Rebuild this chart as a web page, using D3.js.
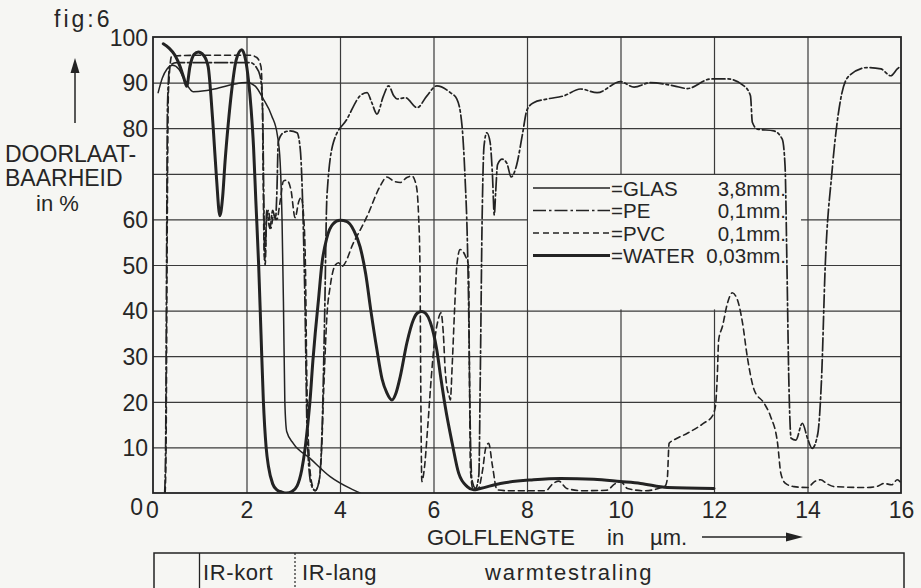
<!DOCTYPE html>
<html>
<head>
<meta charset="utf-8">
<script src="https://cdn.jsdelivr.net/npm/d3@7"></script>
<style>
  html, body { margin: 0; padding: 0; background: #f6f6f3; }
  svg { display: block; }
  text { font-family: "Liberation Sans", Arial, sans-serif; fill: #262626; }
</style>
</head>
<body>
<svg id="chart" width="921" height="588"></svg>
<script>
// ---------- data (wavelength in µm, transmission in %) ----------
const xTicks = [0, 2, 4, 6, 8, 10, 12, 14, 16];
const yTicks = [0, 10, 20, 30, 40, 50, 60, 70, 80, 90, 100];
const yTickLabels = ["0", "10", "20", "30", "40", "50", "60", "", "80", "90", "100"];

const seriesNames = ["GLAS", "PE", "PVC", "WATER"];
const seriesThickness = ["3,8mm.", "0,1mm.", "0,1mm.", "0,03mm."];

const glasData = [
  [0.11,87.8],[0.2,91],[0.3,93],[0.42,93.8],[0.55,93],[0.7,90],[0.86,88],[1.1,88.2],
  [1.4,88.8],[1.75,89.7],[2.0,90],[2.18,89.3],[2.36,86.4],[2.54,82.7],[2.66,78.5],
  [2.72,72.5],[2.76,60],[2.79,42],[2.82,20],[2.86,13.5],[3.0,10.9],[3.36,7.6],
  [3.79,3.6],[4.22,1.0],[4.43,0]
];

const peData = [
  [0.25,0],[0.27,10],[0.29,50],[0.31,85],[0.36,93.7],[0.5,94.4],[1.0,94.4],[2.08,94.4],
  [2.2,93.5],[2.29,91.5],[2.34,86],[2.37,65],[2.39,51],[2.41,55],[2.43,62],[2.5,58],
  [2.56,62],[2.62,60],[2.65,66],[2.68,77],[2.79,79],[2.93,79.4],[3.08,79],[3.15,75.4],
  [3.2,64],[3.25,42],[3.3,12],[3.38,2],[3.47,0.5],[3.56,3],[3.62,15],[3.67,38],
  [3.72,65],[3.86,76.9],[4.15,82],[4.43,87.1],[4.58,87.8],[4.68,85.6],[4.79,83.1],
  [4.93,87.1],[5.04,89.3],[5.15,87.1],[5.22,86.4],[5.4,86.7],[5.65,84.5],[5.86,87.1],
  [6.07,89.3],[6.36,87.8],[6.5,86.4],[6.61,80.5],[6.68,68],[6.72,57],[6.75,42],
  [6.78,18],[6.82,3],[6.9,1],[6.97,4],[7.0,25],[7.04,60],[7.08,76],[7.14,79],
  [7.21,77],[7.26,70],[7.3,61],[7.33,66],[7.37,72],[7.47,73.2],[7.57,72.3],[7.66,69.3],
  [7.78,72],[7.9,78.5],[8.0,84],[8.14,85.6],[8.43,86.4],[8.79,87.1],[9.14,88.6],
  [9.5,87.8],[10.0,90.2],[10.29,89],[10.64,90],[11.14,89.3],[11.43,88.7],[11.93,90.8],
  [12.29,90.8],[12.64,89.3],[12.78,87.1],[12.82,81.3],[12.93,79.8],[13.28,79.4],
  [13.46,77.6],[13.52,71.7],[13.56,50],[13.6,25],[13.65,12],[13.75,11.6],[13.89,15.3],
  [14.0,12],[14.1,9.8],[14.22,13],[14.3,25],[14.38,50],[14.52,70],[14.71,86.4],
  [14.89,91.5],[15.28,93.3],[15.57,93],[15.78,91.5],[15.92,93],[16.0,93.7]
];

const pvcData = [
  [0.26,0],[0.28,10],[0.3,50],[0.33,88],[0.4,95.8],[1.0,96],[2.08,96],[2.22,95.5],
  [2.31,93.5],[2.34,85],[2.36,65],[2.38,52],[2.4,50],[2.43,60],[2.47,62],[2.52,58],
  [2.58,61],[2.65,60],[2.72,64],[2.79,68.4],[2.86,68.6],[2.95,66.5],[3.04,60.4],
  [3.12,64],[3.17,64.8],[3.22,61],[3.26,50],[3.29,25],[3.34,8],[3.4,2],[3.47,0.5],
  [3.54,2],[3.6,8],[3.66,25],[3.72,38.8],[3.79,45.3],[3.9,50],[3.97,50.5],[4.04,49.7],
  [4.29,54.9],[4.58,60.7],[4.86,67.3],[5.0,69.3],[5.15,68.4],[5.29,68.1],[5.43,69.2],
  [5.54,69.5],[5.63,67.5],[5.68,61],[5.71,50],[5.73,20],[5.75,2.5],[5.8,5],[5.88,15],
  [5.95,25],[6.02,33],[6.1,38],[6.16,39.5],[6.21,35],[6.25,27],[6.29,23],[6.33,21.5],
  [6.36,20.4],[6.4,28],[6.45,40],[6.5,50],[6.57,53.4],[6.68,52],[6.75,49.7],[6.77,25],
  [6.79,5],[6.85,0.7],[6.95,0.8],[7.05,5],[7.12,10],[7.18,10.9],[7.26,6],[7.36,0.7],
  [7.6,0.5],[8.4,0.5],[8.55,2],[8.68,2.6],[8.85,1],[9.2,0.5],[9.7,0.6],[9.88,2],
  [10.0,2.5],[10.15,1],[10.5,0.5],[10.95,1.5],[11.0,3],[11.04,10.9],[11.14,11.6],
  [11.43,13.1],[11.78,15.3],[11.96,16.8],[12.03,19],[12.07,25.6],[12.1,33.6],
  [12.18,36.5],[12.29,41.7],[12.39,43.9],[12.5,42.4],[12.61,37.3],[12.71,30],
  [12.86,22.6],[13.07,19.7],[13.21,16.8],[13.36,10.9],[13.43,4.3],[13.53,2.1],
  [13.71,1.4],[14.0,1.2],[14.15,2.5],[14.28,2.9],[14.42,2],[14.57,1.4],[15.28,1.2],
  [15.5,1.5],[15.64,2.1],[15.8,1.8],[15.92,2.9],[16.0,2.2]
];

const waterData = [
  [0.22,98.5],[0.35,97.5],[0.47,96],[0.58,93.5],[0.66,91],[0.72,89.2],[0.79,93.5],
  [0.88,96.2],[0.97,96.7],[1.08,96],[1.18,93.5],[1.24,87],[1.29,79.8],[1.36,68.8],
  [1.43,60.8],[1.49,65],[1.54,72.5],[1.61,81],[1.68,88],[1.78,95],[1.9,97.2],[1.98,95],
  [2.04,90.7],[2.1,84],[2.15,76],[2.2,64],[2.26,50],[2.31,35],[2.36,20.4],[2.42,10],
  [2.47,5.8],[2.56,2],[2.65,0.7],[2.76,0.2],[2.86,0],[2.97,0.3],[3.08,1.5],[3.18,5],
  [3.25,9.5],[3.31,15],[3.36,20.4],[3.42,29],[3.47,35],[3.54,42.4],[3.61,50],[3.72,56],
  [3.85,59],[4.0,59.8],[4.15,59.5],[4.3,57.5],[4.43,54],[4.55,48],[4.66,40],[4.79,31.4],
  [4.9,25],[5.0,22],[5.11,20.4],[5.2,22],[5.29,25.6],[5.43,32.9],[5.57,38],[5.66,39.5],
  [5.75,39.8],[5.84,39.3],[5.93,37.5],[6.07,31.4],[6.16,25],[6.25,19],[6.4,10.9],
  [6.54,4.3],[6.72,1.4],[6.86,0.7],[7.0,1],[7.43,2.1],[8.14,2.9],[8.72,3.2],[9.43,3.0],
  [10.0,2.5],[10.43,2.1],[11.0,1.2],[12.0,1.0]
];

// ---------- drawing ----------
const svg = d3.select("#chart");
const ink = "#232323";
const bg = "#f6f6f3";
const plotLeft = 153, plotRight = 901, plotTop = 37, plotBottom = 493;

svg.append("rect").attr("width", 921).attr("height", 588).attr("fill", bg);

const x = d3.scaleLinear().domain([0, 16]).range([plotLeft, plotRight]);
const y = d3.scaleLinear().domain([0, 100]).range([plotBottom, plotTop]);

// grid
const grid = svg.append("g");
grid.append("g")
  .attr("transform", `translate(0,${plotBottom})`)
  .call(d3.axisBottom(x).tickValues(xTicks.slice(1, -1)).tickSize(-(plotBottom - plotTop)).tickFormat(""))
  .call(g => g.select(".domain").remove())
  .call(g => g.selectAll("line").attr("stroke", "#3a3a3a").attr("stroke-width", 1.2));
grid.append("g")
  .attr("transform", `translate(${plotLeft},0)`)
  .call(d3.axisLeft(y).tickValues(yTicks.slice(1, -1)).tickSize(-(plotRight - plotLeft)).tickFormat(""))
  .call(g => g.select(".domain").remove())
  .call(g => g.selectAll("line").attr("stroke", "#3a3a3a").attr("stroke-width", 1.2));

// legend panel (blank area over the grid, from 8 µm to ~14 µm, 40 % to 70 %)
svg.append("rect").attr("x", x(8) + 1).attr("y", y(70) + 1.2)
  .attr("width", 801 - x(8) - 1).attr("height", y(40) - y(70) - 2.4).attr("fill", bg);

// frame
svg.append("rect").attr("x", plotLeft).attr("y", plotTop).attr("width", plotRight - plotLeft)
  .attr("height", plotBottom - plotTop).attr("fill", "none").attr("stroke", ink).attr("stroke-width", 1.8);

// tick labels
svg.append("g").attr("transform", `translate(0,${plotBottom})`)
  .call(d3.axisBottom(x).tickValues(xTicks).tickSize(0).tickPadding(9).tickFormat(d3.format("d")))
  .call(g => g.select(".domain").remove())
  .call(g => g.selectAll("text").attr("font-size", 23).attr("fill", ink)
        .attr("font-family", "Liberation Sans, Arial, sans-serif")
        .attr("dx", d => d === 0 ? -1 : 0));
svg.append("g").attr("transform", `translate(${plotLeft - 5},0)`)
  .call(d3.axisLeft(y).tickValues(yTicks).tickSize(0).tickPadding(0)
        .tickFormat((d, i) => yTickLabels[i]))
  .call(g => g.select(".domain").remove())
  .call(g => g.selectAll("text").attr("font-size", 23).attr("fill", ink)
        .attr("font-family", "Liberation Sans, Arial, sans-serif")
        .attr("dy", d => d === 0 ? "0.95em" : "0.36em")
        .attr("dx", d => d === 0 ? -5 : 0));

// curves
svg.append("clipPath").attr("id", "plotclip").append("rect")
  .attr("x", plotLeft).attr("y", plotTop - 2).attr("width", plotRight - plotLeft).attr("height", plotBottom - plotTop + 2);

const line = d3.line().x(d => x(d[0])).y(d => y(d[1])).curve(d3.curveMonotoneX);

const styles = [
  { data: glasData,  width: 1.5, dash: null },
  { data: peData,    width: 1.7, dash: "13,3,2.5,3" },
  { data: pvcData,   width: 1.6, dash: "6,4" },
  { data: waterData, width: 3.0, dash: null }
];

const curves = svg.append("g").attr("clip-path", "url(#plotclip)");
styles.forEach(s => {
  curves.append("path").attr("d", line(s.data)).attr("fill", "none")
    .attr("stroke", ink).attr("stroke-width", s.width)
    .attr("stroke-linejoin", "round").attr("stroke-linecap", "round")
    .attr("stroke-dasharray", s.dash);
});

// legend
const legRows = [188, 210.5, 233, 255.5];
const legend = svg.append("g");
seriesNames.forEach((name, i) => {
  const s = styles[i];
  legend.append("line").attr("x1", 533).attr("x2", 610).attr("y1", legRows[i]).attr("y2", legRows[i])
    .attr("stroke", ink).attr("stroke-width", s.width).attr("stroke-dasharray", s.dash);
  legend.append("text").attr("x", 611).attr("y", legRows[i] + 7.5).attr("font-size", 20.5)
    .text("=" + name);
  legend.append("text").attr("x", 786).attr("y", legRows[i] + 7.5).attr("font-size", 20.5)
    .attr("text-anchor", "end").text(seriesThickness[i]);
});

// y axis title
svg.append("text").attr("x", 54).attr("y", 27).attr("font-size", 23).attr("letter-spacing", 3).text("fig:6");
svg.append("line").attr("x1", 75).attr("x2", 75).attr("y1", 123).attr("y2", 72)
  .attr("stroke", ink).attr("stroke-width", 1.5);
svg.append("path").attr("d", "M75,58 L70.5,73 L79.5,73 Z").attr("fill", ink);
svg.append("text").attr("x", 5).attr("y", 162).attr("font-size", 23).text("DOORLAAT-");
svg.append("text").attr("x", 5).attr("y", 186).attr("font-size", 23).text("BAARHEID");
svg.append("text").attr("x", 36).attr("y", 210.5).attr("font-size", 22).text("in %");

// x axis title
svg.append("text").attr("x", 427).attr("y", 545).attr("font-size", 22).text("GOLFLENGTE");
svg.append("text").attr("x", 607).attr("y", 545).attr("font-size", 22).text("in");
svg.append("text").attr("x", 650).attr("y", 545).attr("font-size", 22).text("µm.");
svg.append("line").attr("x1", 702).attr("x2", 790).attr("y1", 537).attr("y2", 537)
  .attr("stroke", ink).attr("stroke-width", 1.6);
svg.append("path").attr("d", "M803,537 L786,532.5 L786,541.5 Z").attr("fill", ink);

// band box
const band = svg.append("g");
band.append("rect").attr("x", 154).attr("y", 553).attr("width", 750).attr("height", 45)
  .attr("fill", "none").attr("stroke", ink).attr("stroke-width", 1.5);
band.append("line").attr("x1", 199.5).attr("x2", 199.5).attr("y1", 553).attr("y2", 588)
  .attr("stroke", ink).attr("stroke-width", 1.3);
band.append("line").attr("x1", 295).attr("x2", 295).attr("y1", 553).attr("y2", 588)
  .attr("stroke", ink).attr("stroke-width", 1.2).attr("stroke-dasharray", "2,2");
band.append("text").attr("x", 203).attr("y", 580).attr("font-size", 22).attr("letter-spacing", 0.6).text("IR-kort");
band.append("text").attr("x", 302).attr("y", 580).attr("font-size", 22).attr("letter-spacing", 0.6).text("IR-lang");
band.append("text").attr("x", 485).attr("y", 580).attr("font-size", 22).attr("letter-spacing", 1.8).text("warmtestraling");
</script>
</body>
</html>
